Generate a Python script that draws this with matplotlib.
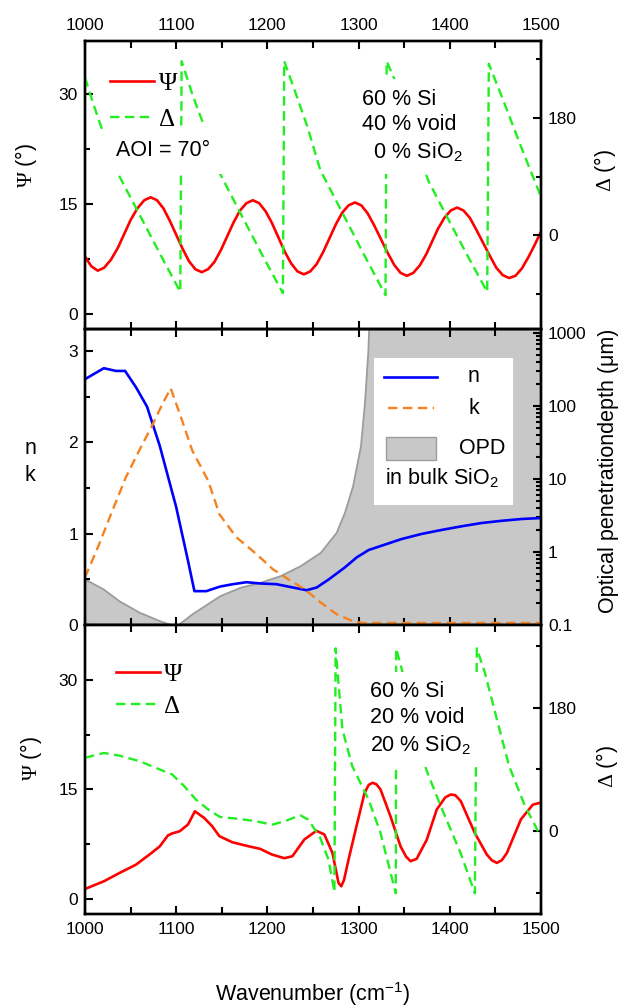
"""
Ellipsometry summary figure: Psi/Delta for two porous-Si mixtures and the
n, k of SiO2 with its optical penetration depth, on a shared wavenumber axis.
"""

import matplotlib
matplotlib.use("Agg")
import matplotlib.pyplot as plt
from matplotlib import ticker
from matplotlib.lines import Line2D
from matplotlib.patches import Rectangle

# --------------------------------------------------------------------------- #
# Data
# --------------------------------------------------------------------------- #

# top panel: 60 % Si / 40 % void / 0 % SiO2
wn_psi_top = [1000, 1007, 1014, 1021, 1028.5, 1036, 1043, 1050, 1057.5, 1065,
              1072, 1079, 1086, 1093, 1100, 1107, 1114, 1121, 1128, 1135,
              1142, 1149, 1156, 1163, 1170, 1177, 1184, 1191, 1198, 1205,
              1212, 1219, 1226, 1233, 1240, 1247, 1254, 1261, 1268, 1275,
              1282, 1289, 1296, 1303, 1310, 1317, 1324.5, 1332, 1339, 1346,
              1353, 1360, 1367, 1374, 1380.5, 1387, 1394, 1401, 1408, 1415,
              1422, 1429, 1436.5, 1444, 1451, 1458, 1465, 1472, 1479, 1486,
              1493, 1500]
psi_top = [7.8, 6.5, 5.9, 6.3, 7.4, 9.0, 10.9, 12.8, 14.4, 15.5,
           15.9, 15.5, 14.4, 12.7, 10.8, 8.9, 7.2, 6.1, 5.7, 6.1,
           7.1, 8.7, 10.6, 12.5, 14.1, 15.1, 15.5, 15.1, 14.0, 12.4,
           10.45, 8.5, 6.9, 5.8, 5.4, 5.8, 6.8, 8.4, 10.3, 12.2,
           13.8, 14.8, 15.2, 14.8, 13.7, 12.1, 10.2, 8.3, 6.7, 5.6,
           5.2, 5.6, 6.6, 8.1, 9.85, 11.6, 13.1, 14.1, 14.5, 14.1,
           13.1, 11.5, 9.7, 7.9, 6.3, 5.3, 4.9, 5.2, 6.2, 7.7,
           9.4, 11.2]

wn_delta_top = [1000, 1010, 1020, 1036, 1060, 1082, 1104.5,
                1106, 1118, 1131, 1146, 1170, 1195, 1217,
                1218.5, 1232, 1244, 1258, 1282, 1306, 1329.5,
                1330.8, 1340, 1358, 1377, 1400, 1420, 1441,
                1442.8, 1460, 1478, 1500]
delta_top = [242, 198, 157, 95, 31, -28, -87,
             267, 215, 166, 100, 35, -32, -89,
             267, 214, 166, 100, 35, -30, -92,
             267, 237, 150, 82, 20, -33, -87,
             263, 202, 136, 59]

# middle panel: n, k of SiO2 and optical penetration depth (um)
wn_n = [1000, 1020.7, 1034, 1044, 1056, 1068, 1082, 1100, 1113, 1120,
        1133, 1148, 1162, 1177, 1192.5, 1210, 1228, 1243, 1254, 1267.5,
        1285, 1298, 1311, 1329, 1347, 1369, 1391, 1413, 1435, 1457,
        1479, 1500]
n_vals = [2.69, 2.81, 2.78, 2.78, 2.6, 2.39, 1.96, 1.29, 0.70, 0.37,
          0.37, 0.42, 0.446, 0.468, 0.454, 0.446, 0.41, 0.38, 0.41, 0.50,
          0.63, 0.74, 0.82, 0.88, 0.94, 0.996, 1.04, 1.08, 1.116, 1.14,
          1.16, 1.17]

wn_k = [1000, 1015, 1030, 1045, 1060, 1073, 1085, 1094,
        1105, 1117.6, 1135, 1147.5, 1166, 1188, 1206, 1223, 1241, 1258.6,
        1276, 1294, 1304, 1350, 1400, 1450, 1500]
k_vals = [0.52, 0.87, 1.25, 1.62, 1.92, 2.17, 2.42, 2.59,
          2.28, 1.91, 1.58, 1.21, 0.96, 0.776, 0.61, 0.50, 0.39, 0.245,
          0.117, 0.04, 0.022, 0.022, 0.022, 0.022, 0.022]

wn_opd = [1000, 1020.7, 1038, 1060, 1082, 1096, 1102, 1117.6, 1148.5, 1170.5,
          1192.5, 1214.5, 1236.5, 1258.6, 1276, 1285, 1294, 1302.6, 1307,
          1310.6, 1311.5, 1313, 1500]
opd_vals = [0.42, 0.305, 0.21, 0.147, 0.113, 0.098, 0.098, 0.139, 0.248, 0.322,
            0.377, 0.465, 0.637, 0.97, 1.82, 3.4, 7.9, 27.8, 109,
            525, 1000, 3000, 3000]

# bottom panel: 60 % Si / 20 % void / 20 % SiO2
wn_psi_bot = [1000, 1020.7, 1038, 1056, 1073, 1082, 1091, 1095.4, 1104, 1113,
              1120.5, 1130.6, 1139.4, 1147.3, 1161.4, 1179, 1192, 1205, 1218.6,
              1227.4, 1240.5, 1253.7, 1262.5, 1271.3, 1278, 1281, 1284, 1289,
              1297.7, 1306.5, 1311, 1315.3, 1319.5, 1324, 1335, 1346, 1352,
              1357, 1363.7, 1374.7, 1385.7, 1395, 1401, 1406, 1412, 1427.5,
              1440.6, 1446, 1451.6, 1457, 1462.6, 1478, 1491, 1500]
psi_bot = [1.37, 2.42, 3.57, 4.7, 6.3, 7.2, 8.7, 8.96, 9.28, 10.2,
           12.0, 11.1, 9.97, 8.6, 7.77, 7.22, 6.86, 6.08, 5.58,
           5.85, 8.14, 9.33, 8.82, 6.31, 2.19, 1.74, 2.6, 5.4,
           9.97, 14.5, 15.6, 15.9, 15.7, 15.0, 11.3, 7.2, 5.8,
           5.17, 5.5, 8.1, 12.25, 13.9, 14.3, 14.2, 13.4, 9.0,
           6.08, 5.3, 4.94, 5.3, 6.3, 10.9, 12.9, 13.2]

wn_delta_bot = [1000, 1020.7, 1038, 1060, 1082, 1095.4, 1108.6, 1121.8, 1135, 1148,
                1170, 1188, 1205, 1218.6, 1236, 1245, 1258, 1267, 1273.5, 1274.8,
                1276, 1282.3, 1293, 1311, 1324, 1340.8, 1341.2, 1348.3, 1360, 1374.7,
                1390, 1412, 1427.5, 1429.6, 1438.4, 1451.6, 1465, 1482.4, 1500]
delta_bot = [107, 114, 110, 102, 90, 83, 66, 46, 32, 21,
             18, 14.6, 9.7, 14.6, 23.4, 17, -9.7, -41, -88, 266,
             246, 148, 95, 46, -2, -90, 266, 231, 150, 88,
             37, -32, -90, 266, 231, 163, 95, 37, -8]

# --------------------------------------------------------------------------- #
# Style
# --------------------------------------------------------------------------- #
RED = "#ff0000"
GREEN = "#22ee22"
BLUE = "#0000ff"
ORANGE = "#f5821f"
GRAY_FILL = "#c8c8c8"
GRAY_EDGE = "#9c9c9c"
TXT = 15.5      # annotation / axis label size
SYM = 18        # serif Psi / Delta in legends

plt.rcParams.update({
    "font.family": ["Liberation Sans", "DejaVu Sans"],
    "font.size": 12.5,
    "mathtext.fontset": "custom",
    "mathtext.rm": "Liberation Serif",
    "mathtext.sf": "Liberation Sans",
    "mathtext.default": "regular",
    "axes.linewidth": 1.7,
})

fig = plt.figure(figsize=(6.29, 10.08), dpi=100)
L, W = 0.1351, 0.725
ax_top = fig.add_axes([L, 0.6736, W, 0.2857])
ax_mid = fig.add_axes([L, 0.3800, W, 0.2937])
ax_bot = fig.add_axes([L, 0.0933, W, 0.2867])


def style_x(ax, top_labels=False, bottom_labels=False):
    ax.set_xlim(1000, 1500)
    ax.xaxis.set_major_locator(ticker.MultipleLocator(100))
    ax.xaxis.set_minor_locator(ticker.MultipleLocator(50))
    ax.tick_params(axis="x", which="both", direction="in", top=True, bottom=True,
                   labeltop=top_labels, labelbottom=bottom_labels, width=1.5, pad=6)
    ax.tick_params(axis="x", which="major", length=6)
    ax.tick_params(axis="x", which="minor", length=5)


def style_y(ax, side):
    kw = dict(left=(side == "left"), right=(side == "right"),
              labelleft=(side == "left"), labelright=(side == "right"))
    ax.tick_params(axis="y", which="both", direction="in", width=1.5, pad=5, **kw)
    ax.tick_params(axis="y", which="major", length=6)
    ax.tick_params(axis="y", which="minor", length=3.5)


def psi_delta_panel(ax, wn_p, psi, wn_d, delta, dlim, top_labels, bottom_labels):
    ax.plot(wn_p, psi, color=RED, lw=1.9)
    ax.set_ylim(-2.05, 37.2)
    ax.yaxis.set_major_locator(ticker.MultipleLocator(15))
    ax.yaxis.set_minor_locator(ticker.MultipleLocator(7.5))
    ax.set_ylabel(r"$\mathrm{\Psi}$ (°)", fontsize=TXT)
    style_x(ax, top_labels, bottom_labels)
    style_y(ax, "left")

    ax2 = ax.twinx()
    ax2.plot(wn_d, delta, color=GREEN, lw=1.7, dashes=(4, 2.3))
    ax2.set_ylim(*dlim)
    ax2.yaxis.set_major_locator(ticker.MultipleLocator(180))
    ax2.yaxis.set_minor_locator(ticker.MultipleLocator(90))
    ax2.set_ylabel(r"$\mathrm{\Delta}$ (°)", fontsize=TXT)
    style_y(ax2, "right")
    return ax2


box = dict(boxstyle="square,pad=0.45", facecolor="white", edgecolor="none")

# ---- top panel ------------------------------------------------------------ #
ax_top2 = psi_delta_panel(ax_top, wn_psi_top, psi_top, wn_delta_top, delta_top,
                          (-144, 298), True, False)
ax_top.yaxis.set_label_coords(-0.10, 0.57)
ax_top2.yaxis.set_label_coords(1.112, 0.55)
handles = [Line2D([], [], color=RED, lw=1.9),
           Line2D([], [], color=GREEN, lw=1.7, dashes=(4, 2.3))]
ax_top2.legend(handles, [r"$\mathrm{\Psi}$", r"$\mathrm{\Delta}$"], loc="upper left",
               bbox_to_anchor=(0.055, 0.897), frameon=False, prop={"size": SYM},
               handlelength=1.75, handletextpad=0.15, borderpad=0, borderaxespad=0,
               labelspacing=0.5)
ax_top2.text(0.068, 0.62, "AOI = 70°", transform=ax_top2.transAxes,
             fontsize=TXT, va="center", ha="left", bbox=dict(box, boxstyle="square,pad=0.6"))
ax_top2.text(0.607, 0.835, "60 % Si\n40 % void\n  0 % SiO$_2$",
             transform=ax_top2.transAxes, fontsize=TXT, va="top", ha="left",
             linespacing=1.3, bbox=box)

# ---- middle panel --------------------------------------------------------- #
ax_opd = ax_mid.twinx()
ax_opd.set_zorder(ax_mid.get_zorder() - 1)
ax_mid.patch.set_visible(False)
ax_opd.patch.set_visible(True)
ax_opd.fill_between(wn_opd, 0.01, opd_vals, facecolor=GRAY_FILL, edgecolor="none")
ax_opd.plot(wn_opd, opd_vals, color=GRAY_EDGE, lw=1.3)
ax_opd.set_yscale("log")
ax_opd.set_ylim(0.1, 1120)
ax_opd.yaxis.set_major_formatter(ticker.FuncFormatter(lambda v, _: f"{v:g}"))
ax_opd.yaxis.set_minor_formatter(ticker.NullFormatter())
ax_opd.set_ylabel("Optical penetrationdepth (μm)", fontsize=TXT)
ax_opd.yaxis.set_label_coords(1.125, 0.52)
style_y(ax_opd, "right")

ax_mid.plot(wn_n, n_vals, color=BLUE, lw=1.9)
ax_mid.plot(wn_k, k_vals, color=ORANGE, lw=1.7, dashes=(4, 2.3))
ax_mid.set_ylim(0, 3.24)
ax_mid.yaxis.set_major_locator(ticker.MultipleLocator(1))
ax_mid.yaxis.set_minor_locator(ticker.MultipleLocator(0.5))
ax_mid.set_ylabel("n\nk", rotation=0, fontsize=TXT, ha="center", va="center",
                  linespacing=1.35)
ax_mid.yaxis.set_label_coords(-0.12, 0.55)
style_x(ax_mid)
style_y(ax_mid, "left")

# legend box (drawn by hand, Origin style)
T = ax_mid.transAxes
ax_mid.add_patch(Rectangle((0.633, 0.405), 0.305, 0.496, transform=T,
                           facecolor="white", edgecolor="none", zorder=5))
ax_mid.add_line(Line2D([0.655, 0.773], [0.839, 0.839], transform=T, color=BLUE,
                       lw=1.9, zorder=6))
ax_mid.add_line(Line2D([0.664, 0.766], [0.732, 0.732], transform=T, color=ORANGE,
                       lw=1.7, dashes=(4, 2.3), zorder=6))
ax_mid.add_patch(Rectangle((0.660, 0.557), 0.110, 0.077, transform=T,
                           facecolor=GRAY_FILL, edgecolor=GRAY_EDGE, lw=1.0, zorder=6))
ax_mid.text(0.852, 0.839, "n", transform=T, fontsize=TXT, ha="center", va="center", zorder=7)
ax_mid.text(0.852, 0.732, "k", transform=T, fontsize=TXT, ha="center", va="center", zorder=7)
ax_mid.text(0.872, 0.595, "OPD", transform=T, fontsize=TXT, ha="center", va="center", zorder=7)
ax_mid.text(0.658, 0.495, "in bulk SiO$_2$", transform=T, fontsize=TXT, ha="left",
            va="center", zorder=7)

# ---- bottom panel --------------------------------------------------------- #
ax_bot2 = psi_delta_panel(ax_bot, wn_psi_bot, psi_bot, wn_delta_bot, delta_bot,
                          (-120, 300), False, True)
ax_bot.set_ylim(-2.05, 37.5)
ax_bot.yaxis.set_label_coords(-0.09, 0.54)
ax_bot2.yaxis.set_label_coords(1.116, 0.51)
ax_bot2.legend(handles, [r"$\mathrm{\Psi}$", r"$\mathrm{\Delta}$"], loc="upper left",
               bbox_to_anchor=(0.068, 0.872), frameon=False, prop={"size": SYM},
               handlelength=1.75, handletextpad=0.15, borderpad=0, borderaxespad=0,
               labelspacing=0.33)
ax_bot2.text(0.625, 0.805, "60 % Si\n20 % void\n20 % SiO$_2$",
             transform=ax_bot2.transAxes, fontsize=TXT, va="top", ha="left",
             linespacing=1.3, bbox=box)
ax_bot.set_xlabel("Wavenumber (cm$^{-1}$)", fontsize=TXT)
ax_bot.xaxis.set_label_coords(0.5, -0.23)

fig.savefig("out.png", dpi=100)
